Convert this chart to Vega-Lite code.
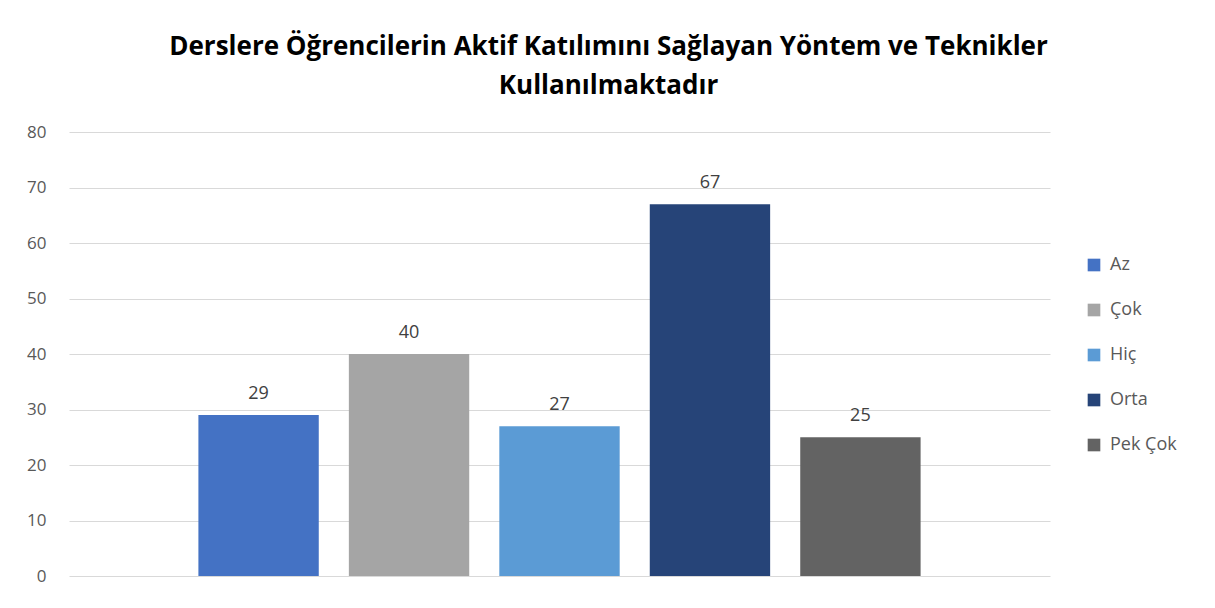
{
  "$schema": "https://vega.github.io/schema/vega-lite/v6.json",
  "width": 981,
  "height": 444,
  "autosize": {"type": "none"},
  "padding": {"left": 69, "top": 132, "right": 165, "bottom": 32},
  "background": "white",
  "config": {
    "view": {"stroke": null},
    "font": "Open Sans"
  },
  "title": {
    "text": ["Derslere Öğrencilerin Aktif Katılımını Sağlayan Yöntem ve Teknikler", "Kullanılmaktadır"],
    "anchor": "middle",
    "dx": 49,
    "font": "Open Sans",
    "fontSize": 26,
    "fontWeight": "bold",
    "color": "#000000",
    "lineHeight": 39,
    "offset": 24
  },
  "data": {
    "values": [
      {"seri": "Az", "deger": 29},
      {"seri": "Çok", "deger": 40},
      {"seri": "Hiç", "deger": 27},
      {"seri": "Orta", "deger": 67},
      {"seri": "Pek Çok", "deger": 25}
    ]
  },
  "encoding": {
    "x": {
      "field": "seri",
      "type": "nominal",
      "sort": ["Az", "Çok", "Hiç", "Orta", "Pek Çok"],
      "scale": {"paddingInner": 0.2, "paddingOuter": 0.86},
      "axis": null
    },
    "y": {
      "field": "deger",
      "type": "quantitative",
      "scale": {"domain": [0, 80]},
      "axis": {
        "title": null,
        "values": [0, 10, 20, 30, 40, 50, 60, 70, 80],
        "domain": false,
        "ticks": false,
        "gridColor": "#d9d9d9",
        "gridWidth": 1,
        "labelFontSize": 17,
        "labelColor": "#595959",
        "labelPadding": 23
      }
    }
  },
  "layer": [
    {
      "mark": {"type": "bar"},
      "encoding": {
        "color": {
          "field": "seri",
          "type": "nominal",
          "scale": {
            "domain": ["Az", "Çok", "Hiç", "Orta", "Pek Çok"],
            "range": ["#4472C4", "#A5A5A5", "#5B9BD5", "#264478", "#636363"]
          },
          "legend": {
            "title": null,
            "orient": "none",
            "legendX": 1016,
            "legendY": 124,
            "symbolType": "square",
            "symbolSize": 160,
            "symbolStrokeWidth": 0,
            "labelFontSize": 18,
            "labelColor": "#595959",
            "labelOffset": 7,
            "rowPadding": 27
          }
        }
      }
    },
    {
      "mark": {"type": "text", "baseline": "bottom", "dy": -12, "fontSize": 18, "color": "#404040"},
      "encoding": {
        "text": {"field": "deger", "type": "quantitative"}
      }
    }
  ]
}
